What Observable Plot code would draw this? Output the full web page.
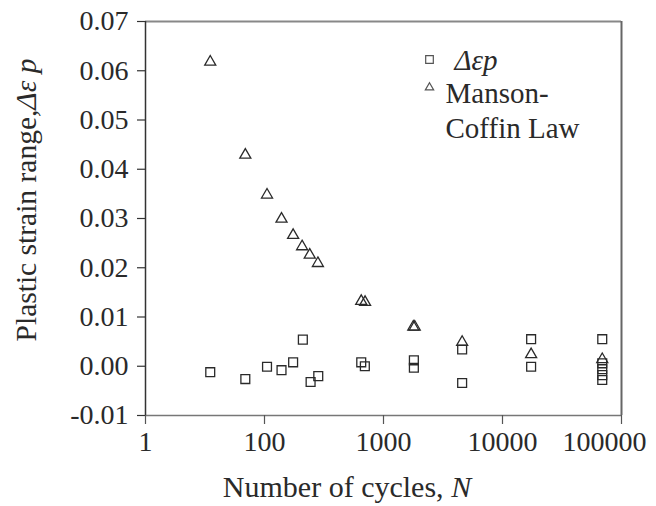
<!DOCTYPE html>
<html>
<head>
<meta charset="utf-8">
<script src="https://cdn.jsdelivr.net/npm/d3@7"></script>
<script src="https://cdn.jsdelivr.net/npm/@observablehq/plot@0.6"></script>
<style>
  html, body { margin: 0; padding: 0; background: #fff; }
  #chart svg { display: block; }
  #chart svg text { font-family: "Liberation Serif", serif !important; }
</style>
</head>
<body>
<div id="chart"></div>
<script>
// Measured plastic strain range Δεp against number of cycles N
const strainCycles = [35, 69, 105, 139, 174, 210, 244, 283, 650, 697, 1800, 1800, 4580, 4580, 17400, 17400, 68900, 68900, 68900, 68900, 68900];
const strainValues = [-0.0012, -0.0026, -0.0001, -0.0008, 0.0008, 0.0054, -0.0032, -0.0020, 0.0008, 0.0000, 0.0012, -0.0003, 0.0034, -0.0034, 0.0055, -0.0001, 0.0055, 0.0006, -0.0006, -0.0018, -0.0028];

// Manson-Coffin law prediction
const mcCycles = [35, 69, 105, 139, 174, 207, 240, 281, 650, 700, 1780, 1830, 4580, 17400, 68900];
const mcValues = [0.0618, 0.0429, 0.0348, 0.0299, 0.0266, 0.0243, 0.0226, 0.0209, 0.0132, 0.0130, 0.0080, 0.0080, 0.0049, 0.0024, 0.0014];

// Axis ticks and their labels
const xTicks = [10, 100, 1000, 10000, 100000];
const xTickLabels = ["1", "100", "1000", "10000", "100000"];
const yTicks = [-0.01, 0, 0.01, 0.02, 0.03, 0.04, 0.05, 0.06, 0.07];
const yTickLabels = ["-0.01", "0.00", "0.01", "0.02", "0.03", "0.04", "0.05", "0.06", "0.07"];

const seriesNames = ["Δεp", "Manson-\nCoffin Law"];

const strain = strainCycles.map((n, i) => ({n, v: strainValues[i]}));
const mc = mcCycles.map((n, i) => ({n, v: mcValues[i]}));

const ink = "#2a2a2a";
const fontFamily = "Liberation Serif, serif";
const lastTick = xTicks[xTicks.length - 1];

const plot = Plot.plot({
  width: 656,
  height: 506,
  marginLeft: 145,
  marginRight: 35,
  marginTop: 21,
  marginBottom: 91,
  style: {fontFamily, fontSize: "28px", color: ink, background: "#fff", overflow: "visible"},
  x: {type: "log", domain: [10, 100000]},
  y: {domain: [-0.01, 0.07]},
  marks: [
    // frame: light top and right edges, dark left and bottom axes
    Plot.ruleY([0.07], {stroke: "#888", strokeWidth: 2}),
    Plot.ruleX([100000], {stroke: "#666", strokeWidth: 2}),
    Plot.ruleY([-0.01], {stroke: "#777", strokeWidth: 1.5}),
    Plot.ruleX([10], {stroke: "#333", strokeWidth: 1.5}),
    Plot.axisX({
      ticks: xTicks,
      tickFormat: d => d === lastTick ? "" : xTickLabels[xTicks.indexOf(d)],
      tickSize: 9,
      tickPadding: 7,
      stroke: "#555",
      strokeWidth: 1.2,
      fill: ink,
      fontSize: 28,
      label: null
    }),
    // the rightmost label sits pulled in from the frame edge
    Plot.axisX({
      ticks: [lastTick],
      tickFormat: d => xTickLabels[xTicks.indexOf(d)],
      tickSize: 0,
      tickPadding: 16,
      dx: -17,
      fill: ink,
      fontSize: 28,
      label: null
    }),
    Plot.axisY({
      ticks: yTicks,
      tickFormat: d => yTickLabels[yTicks.indexOf(d)],
      tickSize: 8,
      tickPadding: 9,
      stroke: "#333",
      strokeWidth: 1.2,
      fill: ink,
      fontSize: 28,
      label: null
    }),
    Plot.dot(strain, {x: "n", y: "v", symbol: "square", r: 5, stroke: ink, strokeWidth: 1.3, fill: "none"}),
    Plot.dot(mc, {x: "n", y: "v", symbol: "triangle", r: 4.1, stroke: ink, strokeWidth: 1.3, fill: "none"}),
    // legend
    Plot.dot([seriesNames[0]], {frameAnchor: "top-left", dx: 284, dy: 38, symbol: "square", r: 4.3, stroke: "#555", strokeWidth: 1.2, fill: "none"}),
    Plot.dot([seriesNames[1]], {frameAnchor: "top-left", dx: 284, dy: 66, symbol: "triangle", r: 3.1, stroke: "#555", strokeWidth: 1.2, fill: "none"}),
    Plot.text([seriesNames[0]], {frameAnchor: "top-left", dx: 309, dy: 39, text: d => d, textAnchor: "start", lineAnchor: "middle", fontStyle: "italic", fill: ink, fontSize: 29}),
    Plot.text([seriesNames[1]], {frameAnchor: "top-left", dx: 300, dy: 57, text: d => d, textAnchor: "start", lineAnchor: "top", lineHeight: 1.2, fill: ink, fontSize: 29})
  ]
});

document.getElementById("chart").appendChild(plot);

// Axis titles with italic symbols
const svg = d3.select(plot);
const xTitle = svg.append("text")
  .attr("x", 347).attr("y", 497)
  .attr("text-anchor", "middle")
  .attr("fill", ink)
  .attr("font-size", 30);
xTitle.append("tspan").text("Number of cycles, ");
xTitle.append("tspan").attr("font-style", "italic").text("N");

const yTitle = svg.append("text")
  .attr("transform", "translate(36,200) rotate(-90)")
  .attr("text-anchor", "middle")
  .attr("fill", ink)
  .attr("font-size", 29.5);
yTitle.append("tspan").text("Plastic strain range,");
yTitle.append("tspan").attr("font-style", "italic").text("Δε p");

// every label in the serif face
svg.selectAll("text").attr("font-family", fontFamily).style("font-family", fontFamily);
</script>
</body>
</html>
